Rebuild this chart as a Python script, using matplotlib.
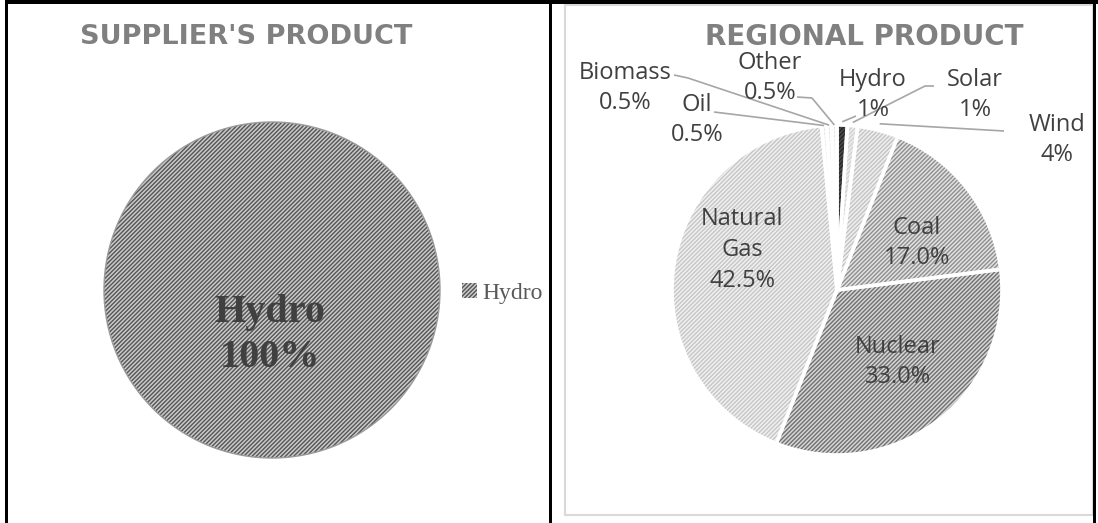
import numpy as np
import matplotlib.pyplot as plt
from matplotlib.patches import Rectangle

W, H = 1098, 523

# data
supplier_sources = ['Hydro']
supplier_share = [100]
supplier_pct = ['100%']

regional_sources = ['Hydro', 'Solar', 'Wind', 'Coal', 'Nuclear', 'Natural Gas', 'Oil', 'Biomass', 'Other']
regional_share = [1, 1, 4, 17.0, 33.0, 42.5, 0.5, 0.5, 0.5]
regional_pct = ['1%', '1%', '4%', '17.0%', '33.0%', '42.5%', '0.5%', '0.5%', '0.5%']

# styles
face_cols = ['#4a4a4a', '#ececec', '#efefef', '#e2e2e2', '#d6d6d6', '#f0f0f0', '#f7f7f7', '#f7f7f7', '#f7f7f7']
hatch_cols = ['#262626', '#d2d2d2', '#c4c4c4', '#8e8e8e', '#707070', '#c6c6c6', '#e4e4e4', '#e4e4e4', '#e4e4e4']

plt.rcParams['hatch.linewidth'] = 1.0

LABEL_FONT = ['Open Sans', 'DejaVu Sans']
TITLE_FONT = ['DejaVu Sans']
HATCH = '////////'


def py(y):
    # image pixel row -> data y
    return H - y


fig = plt.figure(figsize=(10.98, 5.23), dpi=100)
ax = fig.add_axes([0, 0, 1, 1])

# ---- left: supplier's product
lc = (272, py(290))
lw_, _ = ax.pie(supplier_share, center=lc, radius=168, startangle=90, counterclock=False,
                colors=['#cacaca'], frame=True,
                wedgeprops=dict(hatch=HATCH, edgecolor='#555555', linewidth=0))
ax.pie(supplier_share, center=lc, radius=168, startangle=90, counterclock=False, frame=True,
       wedgeprops=dict(fill=False, edgecolor='#9a9a9a', linewidth=1.0))
ax.text(270, py(335), supplier_sources[0] + '\n' + supplier_pct[0], ha='center', va='center',
        family='Liberation Serif', weight='bold', fontsize=29, color='#404040', linespacing=1.3)
ax.text(246, py(37), "SUPPLIER'S PRODUCT", ha='center', va='center', family=TITLE_FONT,
        weight='bold', fontsize=19.5, color='#808080')
ax.legend(handles=[lw_[0]], labels=supplier_sources, loc='center left',
          bbox_to_anchor=(462, py(293)), bbox_transform=ax.transData, frameon=False,
          prop=dict(family='Liberation Serif', size=17), labelcolor='#595959',
          borderpad=0, borderaxespad=0, handlelength=0.62, handleheight=0.62, handletextpad=0.25)

# ---- right: regional product
rc = (837, py(290))
R = 165
wedges, _ = ax.pie(regional_share, center=rc, radius=R, startangle=90, counterclock=False,
                   colors=face_cols, frame=True,
                   wedgeprops=dict(hatch=HATCH, linewidth=0))
for w, hc in zip(wedges, hatch_cols):
    w.set_edgecolor(hc)
    w.set_linewidth(0)
ax.pie(regional_share, center=rc, radius=R, startangle=90, counterclock=False, frame=True,
       wedgeprops=dict(fill=False, edgecolor='white', linewidth=2.6))

ax.text(864, py(37), 'REGIONAL PRODUCT', ha='center', va='center', family=TITLE_FONT,
        weight='bold', fontsize=20, color='#808080')

# label placement (pixel rows of the image)
label_pos = {
    'Hydro': (873, 95), 'Solar': (975, 95), 'Wind': (1057, 140),
    'Coal': (917, 243), 'Nuclear': (898, 362), 'Natural Gas': (742, 250),
    'Oil': (697, 120), 'Biomass': (625, 88), 'Other': (770, 78),
}
inside = {'Coal', 'Nuclear', 'Natural Gas'}
# leader line start points / elbows
leader_start = {
    'Hydro': [(856, 116)], 'Solar': [(934, 86), (925, 86)], 'Wind': [(1004, 131)],
    'Oil': [(714, 112)], 'Biomass': [(674, 75), (688, 78)], 'Other': [(797, 97), (812, 98)],
}
leader_rad = {'Hydro': 1.02, 'Solar': 1.02, 'Wind': 1.04, 'Oil': 1.0, 'Biomass': 1.0, 'Other': 1.0}

for w, name, pct in zip(wedges, regional_sources, regional_pct):
    lab = name.replace(' ', '\n') + '\n' + pct
    x, y = label_pos[name]
    ax.text(x, py(y), lab, ha='center', va='center', family=LABEL_FONT, fontsize=17,
            color='#404040', linespacing=1.38 if name in inside else 1.3)
    if name in leader_start:
        th = np.deg2rad((w.theta1 + w.theta2) / 2)
        r = R * leader_rad[name]
        ex, ey = rc[0] + r * np.cos(th), rc[1] + r * np.sin(th)
        pts = [(px, py(pyy)) for px, pyy in leader_start[name]] + [(ex, ey)]
        ax.plot([p[0] for p in pts], [p[1] for p in pts], color='#a6a6a6', lw=1.2,
                solid_capstyle='butt')

# chart border for right panel and table lines
ax.add_patch(Rectangle((565, py(515)), 528, 510, fill=False, edgecolor='#d9d9d9', lw=1.5))
ax.add_patch(Rectangle((5, py(4)), W - 5, 4, color='black', lw=0))
ax.add_patch(Rectangle((5, 0), 2.5, H, color='black', lw=0))
ax.add_patch(Rectangle((549, 0), 3, H, color='black', lw=0))
ax.add_patch(Rectangle((1093, 0), 2.5, H, color='black', lw=0))

ax.set_xlim(0, W)
ax.set_ylim(0, H)
ax.set_aspect('auto')
ax.axis('off')

fig.savefig('out.png', dpi=100, facecolor='white')
